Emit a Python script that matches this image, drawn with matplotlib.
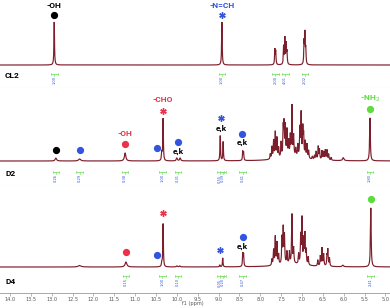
import numpy as np
import matplotlib
matplotlib.use("Agg")
import matplotlib.pyplot as plt

# ---------------- data ----------------
# peak lists: chemical shift (ppm) and intensity (panel height units)
cl2_ppm = [12.94, 8.92, 7.65, 7.63, 7.44, 7.41, 7.38, 7.36, 6.95, 6.93, 6.91]
cl2_int = [43, 43, 15, 13, 18, 26, 20, 12, 22, 30, 15]
cl2_w = [0.008, 0.008, 0.008, 0.008, 0.008, 0.008, 0.008, 0.008, 0.008, 0.008, 0.008]

d2_ppm = [12.90, 12.33, 11.24, 10.36, 10.33, 10.00, 9.92, 8.96, 8.89, 8.42, 8.40,
          7.76, 7.72, 7.68, 7.64, 7.60, 7.56, 7.50, 7.45, 7.43, 7.40, 7.36, 7.32,
          7.28, 7.24, 7.20, 7.15, 7.10, 7.05, 7.02, 6.98, 6.96, 6.92, 6.88, 6.84,
          6.75, 6.70, 6.66, 6.61, 6.58, 6.52, 6.48, 6.44, 6.40, 6.36, 6.30, 6.01, 5.37,
          7.25]
d2_int = [3, 2, 8, 8, 42, 3, 3, 25, 19, 9, 8,
          5, 12, 18, 26, 20, 10, 15, 28, 31, 30, 26, 15,
          20, 50, 20, 8, 12, 28, 43, 28, 21, 16, 14, 8,
          3, 4, 8, 13, 10, 9, 8, 10, 10, 6, 3, 3, 43,
          4]
d2_w = [0.02, 0.03, 0.02, 0.01, 0.008, 0.015, 0.015, 0.008, 0.008, 0.008, 0.008,
        0.009, 0.009, 0.009, 0.009, 0.009, 0.009, 0.009, 0.009, 0.009, 0.009, 0.009, 0.009,
        0.009, 0.009, 0.009, 0.009, 0.009, 0.009, 0.009, 0.009, 0.009, 0.009, 0.009, 0.009,
        0.009, 0.009, 0.009, 0.009, 0.009, 0.009, 0.009, 0.009, 0.009, 0.009, 0.009, 0.02, 0.01,
        0.35]

d4_ppm = [12.33, 11.22, 10.36, 10.33, 10.00, 9.93, 8.97, 8.90, 8.42, 8.40,
          7.72, 7.68, 7.64, 7.60, 7.56, 7.48, 7.45, 7.42, 7.36, 7.30, 7.24, 7.20,
          7.08, 7.03, 7.00, 6.96, 6.93, 6.90, 6.85, 6.62, 6.56, 6.52, 6.48, 6.40,
          6.38, 6.34, 6.02, 5.35, 7.25]
d4_int = [1.5, 5, 4, 43, 1, 1, 2, 9, 13, 12,
          6, 15, 28, 22, 10, 26, 35, 28, 12, 12, 49, 15,
          10, 28, 45, 24, 30, 14, 8, 6, 10, 18, 12, 10,
          16, 8, 1.5, 59, 3]
d4_w = [0.04, 0.025, 0.01, 0.008, 0.015, 0.015, 0.008, 0.008, 0.008, 0.008,
        0.009, 0.009, 0.009, 0.009, 0.009, 0.009, 0.009, 0.009, 0.009, 0.009, 0.009, 0.009,
        0.009, 0.009, 0.009, 0.009, 0.009, 0.009, 0.009, 0.009, 0.009, 0.009, 0.009, 0.009,
        0.009, 0.009, 0.02, 0.01, 0.35]

panel_names = ["CL2", "D2", "D4"]

# integrals (position, value)
cl2_integ_ppm = [12.94, 8.92, 7.64, 7.40, 6.93]
cl2_integ_val = ["1.00", "1.00", "2.00", "4.01", "2.02"]
d2_integ_ppm = [12.90, 12.33, 11.24, 10.35, 9.97, 8.96, 8.89, 8.42, 5.37]
d2_integ_val = ["0.26", "0.29", "0.38", "1.00", "0.31", "0.55", "0.39", "0.41", "1.80"]
d4_integ_ppm = [11.22, 10.35, 9.97, 8.96, 8.89, 8.42, 5.35]
d4_integ_val = ["0.15", "1.00", "0.10", "0.05", "0.20", "0.47", "2.41"]

x_ticks = [14.0, 13.5, 13.0, 12.5, 12.0, 11.5, 11.0, 10.5, 10.0, 9.5, 9.0, 8.5, 8.0,
           7.5, 7.0, 6.5, 6.0, 5.5, 5.0]

# ---------------- style ----------------
LINE = "#7d1e2c"
RED = "#e8334a"
BLUE = "#3355dd"
GREEN = "#5ddc3a"
GREENI = "#7be36a"
FONT = "Roboto"
XL = (14.24, 4.89)

W, H = 390, 308
fig = plt.figure(figsize=(W / 100, H / 100), dpi=100)

# panel pixel extents (top, bottom, baseline)
panels = [(0, 88, 65), (88, 186, 161), (186, 292, 267)]
axes = []
for (top, bot, base) in panels:
    ax = fig.add_axes([0, (H - bot) / H, 1, (bot - top) / H])
    ax.set_xlim(*XL)
    ax.set_ylim(-(bot - base), base - top)
    ax.set_facecolor("none")
    for s in ax.spines.values():
        s.set_visible(False)
    ax.set_xticks([])
    ax.set_yticks([])
    axes.append(ax)

x = np.linspace(XL[1], XL[0], 30000)


def spectrum(ppm, inten, wid):
    y = np.zeros_like(x)
    for p, h, w in zip(ppm, inten, wid):
        y += h / (1 + ((x - p) / w) ** 2)
    return y


for ax, (pp, ii, ww) in zip(axes, [(cl2_ppm, cl2_int, cl2_w),
                                   (d2_ppm, d2_int, d2_w),
                                   (d4_ppm, d4_int, d4_w)]):
    ax.plot(x, spectrum(pp, ii, ww), color=LINE, lw=0.85, solid_joinstyle="miter")

# separators
for ax in axes[:2]:
    ax.axhline(ax.get_ylim()[0] + 0.3, color="#e6e6e6", lw=0.8)

# panel names
for ax, name, h in zip(axes, panel_names, [-11, -12, -14]):
    ax.text(14.12, h, name, fontsize=6, fontweight="bold", family=FONT,
            color="black", va="center", ha="left")


# integrals
def integrals(ax, ppms, vals, h):
    for p, v in zip(ppms, vals):
        ax.plot([p - 0.08, p + 0.08], [h, h], color=GREENI, lw=0.6)
        ax.plot([p - 0.08, p - 0.08], [h - 0.8, h + 0.8], color=GREENI, lw=0.5)
        ax.plot([p + 0.08, p + 0.08], [h - 0.8, h + 0.8], color=GREENI, lw=0.5)
        ax.plot([p, p], [h, h - 1.8], color=GREENI, lw=0.5)
        ax.text(p, h - 2.3, v, rotation=90, fontsize=2.6, color=BLUE,
                ha="center", va="top", family="DejaVu Sans")


integrals(axes[0], cl2_integ_ppm, cl2_integ_val, -9)
integrals(axes[1], d2_integ_ppm, d2_integ_val, -11)
integrals(axes[2], d4_integ_ppm, d4_integ_val, -9)


def label(ax, p, h, s, c):
    ax.text(p, h, s, fontsize=6, fontweight="bold", family=FONT, color=c,
            ha="center", va="center")


def dot(ax, p, h, c):
    ax.plot([p], [h], "o", color=c, ms=4.2, mec=c)


def star(ax, p, h, c):
    ax.plot([p], [h], marker=(6, 2, 0), color=c, ms=4.6, mew=1.0, ls="none")


a1, a2, a3 = axes
# CL2
label(a1, 12.94, 60, "-OH", "black")
dot(a1, 12.94, 50, "black")
label(a1, 8.92, 60, "-N=CH", BLUE)
star(a1, 8.92, 50, BLUE)

# D2
dot(a2, 12.90, 11, "black")
dot(a2, 12.33, 11, BLUE)
label(a2, 11.24, 28, "-OH", RED)
dot(a2, 11.24, 17, RED)
dot(a2, 10.47, 13, BLUE)
label(a2, 10.33, 61, "-CHO", RED)
star(a2, 10.33, 50, RED)
dot(a2, 9.97, 19, BLUE)
label(a2, 9.97, 10, "e,k", "black")
star(a2, 8.94, 43, BLUE)
label(a2, 8.94, 33, "e,k", "black")
dot(a2, 8.43, 27, BLUE)
label(a2, 8.43, 19, "e,k", "black")
label(a2, 5.37, 62, "-NH$_2$", GREEN)
dot(a2, 5.37, 52, GREEN)

# D4
dot(a3, 11.22, 15, RED)
dot(a3, 10.47, 12, BLUE)
star(a3, 10.33, 54, RED)
star(a3, 8.97, 17, BLUE)
dot(a3, 8.42, 30, BLUE)
label(a3, 8.42, 21, "e,k", "black")
dot(a3, 5.35, 68, GREEN)

# bottom axis
axb = fig.add_axes([0, (H - 293) / H, 1, 0.0001])
axb.set_xlim(*XL)
axb.set_yticks([])
for s in ["left", "right", "top"]:
    axb.spines[s].set_visible(False)
axb.spines["bottom"].set_color("#9a9a9a")
axb.spines["bottom"].set_linewidth(0.6)
axb.set_xticks(x_ticks)
axb.set_xticklabels([f"{t:.1f}" for t in x_ticks], fontsize=3.6, color="#555555",
                    family="DejaVu Sans")
axb.tick_params(axis="x", length=2, width=0.5, color="#9a9a9a", pad=1.2)

# axis title placed under the tick labels near 9.6 ppm
fig.text((14.24 - 9.61) / (14.24 - 4.89), (H - 304) / H, "f1 (ppm)", fontsize=3.6,
         color="#555555", ha="center", va="center", family="DejaVu Sans")

fig.savefig("out.png", dpi=100)
